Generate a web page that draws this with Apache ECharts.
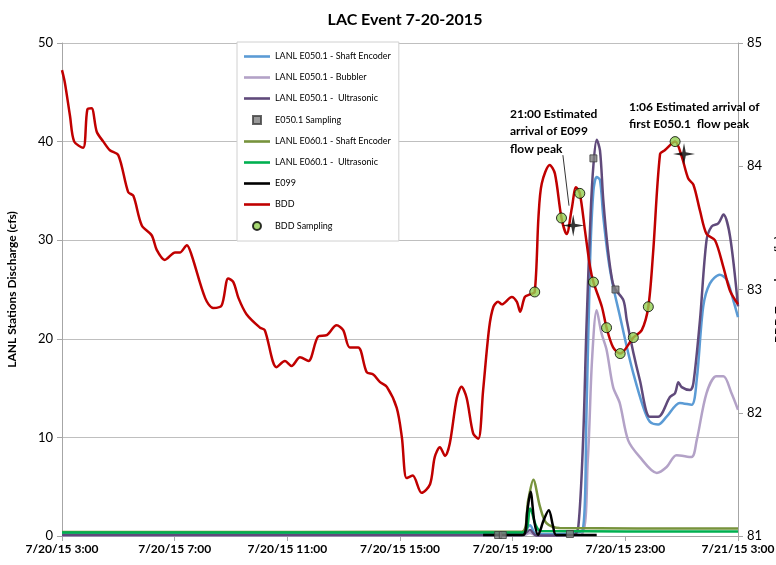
<!DOCTYPE html>
<html>
<head>
<meta charset="utf-8">
<title>LAC Event 7-20-2015</title>
<script src="https://cdn.jsdelivr.net/npm/echarts@6/dist/echarts.min.js"></script>
<style>
    html, body { margin: 0; padding: 0; background: #fff; }
    #main { width: 776px; height: 565px; }
</style>
</head>
<body>
<div id="main"></div>
<script type="text/javascript">
// time labels on x axis (every 4 hours from 7/20 3:00)
var tickLabels = ['7/20/15 3:00', '7/20/15 7:00', '7/20/15 11:00', '7/20/15 15:00', '7/20/15 19:00', '7/20/15 23:00', '7/21/15 3:00'];

// LANL E050.1 - Shaft Encoder (cfs)
var e050Shaft = [
    ['7/20 3:00', 0.2], ['7/20 19:20', 0.2], ['7/20 19:37', 1.1], ['7/20 19:50', 0.2], ['7/20 21:28', 0.5],
    ['7/20 21:37', 12], ['7/20 21:45', 28], ['7/20 21:52', 35], ['7/20 21:59', 36.4], ['7/20 22:06', 36.1],
    ['7/20 22:13', 32.4], ['7/20 22:24', 28.0], ['7/20 22:34', 25.3], ['7/20 22:48', 22.4], ['7/20 23:03', 19.2],
    ['7/20 23:17', 16.5], ['7/20 23:38', 13.1], ['7/20 23:52', 11.6], ['7/21 0:10', 11.3], ['7/21 0:28', 12.1],
    ['7/21 0:56', 13.5], ['7/21 1:21', 13.3], ['7/21 1:32', 15.8], ['7/21 1:46', 23.3], ['7/21 2:00', 25.6],
    ['7/21 2:21', 26.5], ['7/21 2:36', 26.0], ['7/21 2:50', 23.9], ['7/21 3:00', 22.2]
];
// LANL E050.1 - Bubbler (cfs)
var e050Bubbler = [
    ['7/20 3:00', 0.05], ['7/20 19:20', 0.05], ['7/20 19:37', 0.3], ['7/20 19:50', 0.05], ['7/20 21:25', 0.1],
    ['7/20 21:40', 7.7], ['7/20 21:49', 17.8], ['7/20 21:59', 22.9], ['7/20 22:09', 20.6], ['7/20 22:20', 18.9],
    ['7/20 22:34', 15.1], ['7/20 22:48', 13.5], ['7/20 23:06', 9.7], ['7/20 23:31', 8.0], ['7/21 0:07', 6.4],
    ['7/21 0:28', 7.0], ['7/21 0:49', 8.2], ['7/21 1:21', 8.0], ['7/21 1:32', 9.7], ['7/21 1:53', 14.5],
    ['7/21 2:14', 16.2], ['7/21 2:29', 16.2], ['7/21 2:46', 14.5], ['7/21 3:00', 12.8]
];
// LANL E050.1 - Ultrasonic (cfs)
var e050Ultra = [
    ['7/20 3:00', 0.1], ['7/20 19:20', 0.1], ['7/20 19:37', 0.6], ['7/20 19:50', 0.05], ['7/20 21:10', 0.1],
    ['7/20 21:20', 1.0], ['7/20 21:30', 9.7], ['7/20 21:37', 20.9], ['7/20 21:46', 32.6], ['7/20 21:52', 37.6],
    ['7/20 21:59', 40.2], ['7/20 22:06', 39.1], ['7/20 22:13', 34.1], ['7/20 22:23', 29.0], ['7/20 22:33', 25.7],
    ['7/20 22:39', 25.0], ['7/20 22:56', 23.9], ['7/20 23:03', 21.9], ['7/20 23:17', 18.6], ['7/20 23:31', 15.8],
    ['7/20 23:52', 12.1], ['7/21 0:10', 12.1], ['7/21 0:35', 14.1], ['7/21 0:46', 14.5], ['7/21 0:53', 15.6],
    ['7/21 1:00', 15.1], ['7/21 1:18', 14.8], ['7/21 1:25', 15.5], ['7/21 1:39', 21.9], ['7/21 1:53', 30.0],
    ['7/21 2:04', 31.4], ['7/21 2:18', 31.7], ['7/21 2:29', 32.6], ['7/21 2:43', 30.4], ['7/21 3:00', 23.3]
];
// E050.1 Sampling (cfs)
var e050Samples = [
    ['7/20 18:29', 0.1], ['7/20 18:39', 0.1], ['7/20 21:02', 0.2], ['7/20 21:52', 38.3], ['7/20 22:39', 25.0]
];
// LANL E060.1 - Shaft Encoder (cfs)
var e060Shaft = [
    ['7/20 3:00', 0.4], ['7/20 19:20', 0.45], ['7/20 19:33', 3.6], ['7/20 19:44', 5.7], ['7/20 19:58', 3.0],
    ['7/20 20:12', 1.3], ['7/20 20:40', 0.8], ['7/21 3:00', 0.75]
];
// LANL E060.1 - Ultrasonic (cfs)
var e060Ultra = [
    ['7/20 3:00', 0.35], ['7/20 19:22', 0.35], ['7/20 19:37', 2.8], ['7/20 19:50', 1.0], ['7/20 20:00', 0.5],
    ['7/21 3:00', 0.45]
];
// E099 (cfs)
var e099 = [
    ['7/20 17:57', 0.1], ['7/20 19:22', 0.1], ['7/20 19:31', 2.5], ['7/20 19:38', 4.5], ['7/20 19:46', 1.5],
    ['7/20 19:54', 0.1], ['7/20 20:06', 1.6], ['7/20 20:17', 2.6], ['7/20 20:26', 1.0], ['7/20 20:33', 0.1],
    ['7/20 21:59', 0.1]
];
// BDD transducer level
var bdd = [
    ['7/20 3:00', 84.78], ['7/20 3:06', 84.68], ['7/20 3:17', 84.41], ['7/20 3:26', 84.20], ['7/20 3:45', 84.15],
    ['7/20 3:54', 84.46], ['7/20 4:03', 84.47], ['7/20 4:14', 84.28], ['7/20 4:28', 84.20], ['7/20 4:42', 84.13],
    ['7/20 5:00', 84.09], ['7/20 5:21', 83.79], ['7/20 5:32', 83.76], ['7/20 5:50', 83.52], ['7/20 6:11', 83.44],
    ['7/20 6:22', 83.32], ['7/20 6:39', 83.24], ['7/20 7:01', 83.30], ['7/20 7:11', 83.30], ['7/20 7:26', 83.36],
    ['7/20 7:36', 83.28], ['7/20 8:05', 82.93], ['7/20 8:22', 82.85], ['7/20 8:40', 82.87], ['7/20 8:54', 83.09],
    ['7/20 9:05', 83.06], ['7/20 9:16', 82.93], ['7/20 9:33', 82.80], ['7/20 10:02', 82.69], ['7/20 10:12', 82.67],
    ['7/20 10:37', 82.37], ['7/20 10:55', 82.42], ['7/20 11:09', 82.38], ['7/20 11:27', 82.45], ['7/20 11:45', 82.42],
    ['7/20 12:06', 82.62], ['7/20 12:24', 82.63], ['7/20 12:45', 82.71], ['7/20 12:59', 82.67], ['7/20 13:13', 82.53],
    ['7/20 13:31', 82.53], ['7/20 13:49', 82.33], ['7/20 14:03', 82.31], ['7/20 14:17', 82.25], ['7/20 14:32', 82.21],
    ['7/20 14:53', 82.04], ['7/20 15:04', 81.80], ['7/20 15:14', 81.47], ['7/20 15:27', 81.49], ['7/20 15:46', 81.35],
    ['7/20 16:04', 81.42], ['7/20 16:14', 81.64], ['7/20 16:25', 81.72], ['7/20 16:36', 81.65], ['7/20 16:46', 81.75],
    ['7/20 17:01', 82.12], ['7/20 17:11', 82.21], ['7/20 17:22', 82.12], ['7/20 17:36', 81.83], ['7/20 17:47', 81.79],
    ['7/20 17:57', 82.18], ['7/20 18:10', 82.69], ['7/20 18:19', 82.86], ['7/20 18:29', 82.90], ['7/20 18:37', 82.88],
    ['7/20 18:58', 82.94], ['7/20 19:09', 82.90], ['7/20 19:16', 82.82], ['7/20 19:26', 82.94], ['7/20 19:37', 82.96],
    ['7/20 19:47', 82.98], ['7/20 19:55', 83.59], ['7/20 20:02', 83.86], ['7/20 20:19', 84.01], ['7/20 20:30', 83.94],
    ['7/20 20:44', 83.58], ['7/20 20:55', 83.45], ['7/20 21:06', 83.66], ['7/20 21:15', 83.83], ['7/20 21:23', 83.78],
    ['7/20 21:34', 83.48], ['7/20 21:45', 83.18], ['7/20 21:52', 83.06], ['7/20 22:10', 82.86], ['7/20 22:20', 82.69],
    ['7/20 22:34', 82.53], ['7/20 22:49', 82.48], ['7/20 23:17', 82.61], ['7/20 23:35', 82.67], ['7/20 23:49', 82.86],
    ['7/20 23:59', 83.29], ['7/21 0:14', 84.10], ['7/21 0:24', 84.13], ['7/21 0:46', 84.20], ['7/21 1:00', 84.08],
    ['7/21 1:14', 83.90], ['7/21 1:25', 83.85], ['7/21 1:39', 83.64], ['7/21 1:53', 83.45], ['7/21 2:11', 83.40],
    ['7/21 2:29', 83.18], ['7/21 2:43', 82.99], ['7/21 3:00', 82.88]
];
// BDD Sampling
var bddSamples = [
    ['7/20 19:47', 82.98], ['7/20 20:44', 83.58], ['7/20 21:23', 83.78], ['7/20 21:52', 83.06], ['7/20 22:20', 82.69],
    ['7/20 22:49', 82.48], ['7/20 23:17', 82.61], ['7/20 23:49', 82.86], ['7/21 0:46', 84.20]
];
// estimated flow peak arrivals (stars), on BDD axis
var peakArrivals = [['7/20 21:09', 83.52], ['7/21 1:05', 84.10]];
// arrow of the 21:00 note
var noteArrow = [['7/20 20:47', 84.09], ['7/20 21:00', 83.68]];

// '7/20 19:47' -> hours after 7/20 3:00
function t(s) {
    var p = s.split(' ');
    var day = +p[0].split('/')[1];
    var hm = p[1].split(':');
    return (day - 20) * 24 + (+hm[0]) + (+hm[1]) / 60 - 3;
}
function pts(arr) {
    return arr.map(function (d) { return [t(d[0]), d[1]]; });
}

var FONT = 'Lato, "Open Sans", sans-serif';
var LINE_ICON = 'path://M0,0H26V2.6H0Z';
var chart = echarts.init(document.getElementById('main'));

function lineSeries(name, data, color, yIndex, z) {
    return {
        name: name,
        type: 'line',
        yAxisIndex: yIndex,
        data: pts(data),
        symbol: 'none',
        smooth: 0.3,
        z: z,
        lineStyle: { color: color, width: 2.5 },
        itemStyle: { color: color }
    };
}

var option = {
    animation: false,
    textStyle: { fontFamily: FONT },
    title: {
        text: 'LAC Event 7-20-2015',
        left: 400,
        top: 7,
        textAlign: 'center',
        textStyle: { fontFamily: FONT, fontSize: 16, fontWeight: 'bold', color: '#000' }
    },
    legend: {
        orient: 'vertical',
        left: 237,
        top: 42,
        padding: [10, 8, 10, 7],
        itemWidth: 26,
        itemHeight: 8,
        itemGap: 12,
        backgroundColor: '#fff',
        borderColor: '#d0d0d0',
        borderWidth: 1,
        textStyle: { fontFamily: FONT, fontSize: 9, color: '#000' },
        data: [
            { name: 'LANL E050.1 - Shaft Encoder', icon: LINE_ICON },
            { name: 'LANL E050.1 - Bubbler', icon: LINE_ICON },
            { name: 'LANL E050.1 -  Ultrasonic', icon: LINE_ICON },
            { name: 'E050.1 Sampling', icon: 'path://M0,0H8V8H0Z' },
            { name: 'LANL E060.1 - Shaft Encoder', icon: LINE_ICON },
            { name: 'LANL E060.1 -  Ultrasonic', icon: LINE_ICON },
            { name: 'E099', icon: LINE_ICON },
            { name: 'BDD', icon: LINE_ICON },
            { name: 'BDD Sampling', icon: 'circle' }
        ]
    },
    grid: { left: 62, right: 38, top: 43, bottom: 29, outerBoundsMode: 'none' },
    xAxis: {
        type: 'value',
        min: 0,
        max: 24,
        interval: 4,
        axisLine: { lineStyle: { color: '#a6a6a6' } },
        axisTick: { lineStyle: { color: '#a6a6a6' }, length: 5 },
        splitLine: { show: false },
        axisLabel: {
            color: '#000',
            fontFamily: FONT,
            fontSize: 12,
            fontWeight: 'bold',
            margin: 7,
            formatter: function (v) { return tickLabels[Math.round(v / 4)]; }
        }
    },
    yAxis: [{
        type: 'value',
        min: 0,
        max: 50,
        interval: 10,
        name: 'LANL Stations Discharge (cfs)',
        nameLocation: 'middle',
        nameGap: 44,
        nameTextStyle: { fontFamily: FONT, fontSize: 12, fontWeight: 'bold', color: '#000' },
        axisLine: { show: true, lineStyle: { color: '#a6a6a6' } },
        axisTick: { show: true, lineStyle: { color: '#a6a6a6' }, length: 5 },
        splitLine: { lineStyle: { color: '#bfbfbf' } },
        axisLabel: { color: '#000', fontFamily: FONT, fontSize: 13, margin: 9 }
    }, {
        type: 'value',
        min: 81,
        max: 85,
        interval: 1,
        name: 'BDD Transducer (in)',
        nameLocation: 'middle',
        nameGap: 34,
        nameRotate: 90,
        nameTextStyle: { fontFamily: FONT, fontSize: 12, fontWeight: 'bold', color: '#000' },
        axisLine: { show: true, lineStyle: { color: '#a6a6a6' } },
        axisTick: { show: true, lineStyle: { color: '#a6a6a6' }, length: 5 },
        splitLine: { show: false },
        axisLabel: { color: '#000', fontFamily: FONT, fontSize: 13, margin: 9 }
    }],
    series: [
        lineSeries('LANL E050.1 - Shaft Encoder', e050Shaft, '#5b9bd5', 0, 3),
        lineSeries('LANL E050.1 - Bubbler', e050Bubbler, '#b3a2c7', 0, 2),
        lineSeries('LANL E050.1 -  Ultrasonic', e050Ultra, '#604a7b', 0, 3),
        {
            name: 'E050.1 Sampling',
            type: 'scatter',
            yAxisIndex: 0,
            data: pts(e050Samples),
            symbol: 'rect',
            symbolSize: 7,
            z: 6,
            itemStyle: { color: '#808080', borderColor: '#3f3f3f', borderWidth: 1 }
        },
        lineSeries('LANL E060.1 - Shaft Encoder', e060Shaft, '#77933c', 0, 3),
        lineSeries('LANL E060.1 -  Ultrasonic', e060Ultra, '#00b050', 0, 3),
        lineSeries('E099', e099, '#000000', 0, 4),
        (function () {
            var s = lineSeries('BDD', bdd, '#c00000', 1, 5);
            s.markLine = {
                silent: true,
                symbol: ['none', 'arrow'],
                symbolSize: [0, 6],
                label: { show: false },
                lineStyle: { color: '#000', width: 0.8, type: 'solid' },
                data: [[{ coord: [t(noteArrow[0][0]), noteArrow[0][1]] }, { coord: [t(noteArrow[1][0]), noteArrow[1][1]] }]]
            };
            return s;
        })(),
        {
            name: 'BDD Sampling',
            type: 'scatter',
            yAxisIndex: 1,
            data: pts(bddSamples),
            symbol: 'circle',
            symbolSize: 10,
            z: 7,
            itemStyle: { color: '#92d050', borderColor: '#000', borderWidth: 1 }
        },
        {
            name: 'Peak arrival',
            type: 'scatter',
            yAxisIndex: 1,
            data: pts(peakArrivals),
            symbol: 'path://M0,-10 L1.6,-1.6 L10,0 L1.6,1.6 L0,10 L-1.6,1.6 L-10,0 L-1.6,-1.6 Z',
            symbolSize: 22,
            z: 8,
            itemStyle: { color: '#000' }
        }
    ],
    graphic: [{
        type: 'text',
        left: 510,
        top: 105,
        z: 20,
        style: {
            text: '21:00 Estimated\narrival of E099\nflow peak',
            font: 'bold 12px ' + FONT,
            lineHeight: 17.5,
            fill: '#000'
        }
    }, {
        type: 'text',
        left: 629,
        top: 99,
        z: 20,
        style: {
            text: '1:06 Estimated arrival of\nfirst E050.1  flow peak',
            font: 'bold 12px ' + FONT,
            lineHeight: 17,
            fill: '#000'
        }
    }]
};

chart.setOption(option);
</script>
</body>
</html>
